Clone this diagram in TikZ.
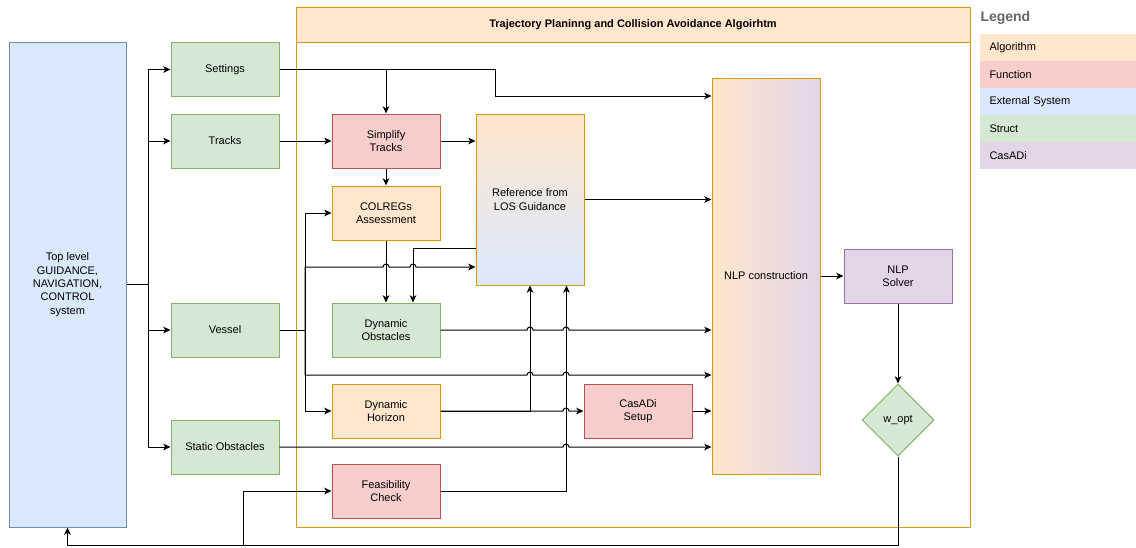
\documentclass[tikz,border=0pt]{standalone}
\usepackage{fontspec}
\setmainfont{Liberation Sans}
\usepackage{tikz}
\usetikzlibrary{shapes}
\usetikzlibrary{shapes.geometric}
\usetikzlibrary{arrows.meta}

\definecolor{algfill}{HTML}{FFE6CC}
\definecolor{algline}{HTML}{D79B00}
\definecolor{funfill}{HTML}{F8CECC}
\definecolor{funline}{HTML}{B85450}
\definecolor{extfill}{HTML}{DAE8FC}
\definecolor{extline}{HTML}{6C8EBF}
\definecolor{strfill}{HTML}{D5E8D4}
\definecolor{strline}{HTML}{82B366}
\definecolor{casfill}{HTML}{E1D5E7}
\definecolor{casline}{HTML}{9673A6}
\definecolor{legtext}{HTML}{666666}

\tikzset{
  box/.style={rectangle, align=center, minimum width=81pt, minimum height=40.5pt,
    inner sep=1pt, font=\fontsize{8.25}{10}\selectfont},
  alg/.style={box, draw=algline, fill=algfill},
  fun/.style={box, draw=funline, fill=funfill},
  struct/.style={box, draw=strline, fill=strfill},
  cas/.style={box, draw=casline, fill=casfill},
  ext/.style={box, draw=extline, fill=extfill},
  legrow/.style={rectangle, anchor=west, minimum height=20.25pt, text width=102.75pt,
    inner xsep=7.5pt, inner ysep=0pt, align=left, font=\fontsize{8.25}{10}\selectfont},
  arr/.style={-{Stealth[length=5.5pt, width=5pt, inset=1.6pt]}},
}

\begin{document}
\begin{tikzpicture}[x=0.75pt, y=0.75pt, line width=0.75pt]
\useasboundingbox (0,0) rectangle (1136,-547);

\node[draw=algline, 
   minimum width=505.5pt, 
   minimum height=390pt] (alg) at (633,-267) {};
\node[draw=algline, fill=algfill, 
   minimum width=505.5pt, 
   minimum height=26.25pt, 
   font=\bfseries\fontsize{8.25}{10}\selectfont] (head) at (633,-24.5) 
  {Trajectory Planinng and Collision Avoidance Algoirhtm};

\node[ext, 
   minimum width=87.75pt, 
   minimum height=363.75pt] (top) at (67.5,-284.5) 
  {Top level\\GUIDANCE,\\NAVIGATION,\\CONTROL\\system};

\node[struct] (settings) at (225,-69.5) {Settings};
\node[struct] (tracks) at (225,-141) {Tracks};
\node[struct] (vessel) at (225,-330) {Vessel};
\node[struct] (static) at (225,-447) {Static Obstacles};

\node[fun] (simp) at (386,-141) {Simplify\\Tracks};
\node[alg] (colregs) at (386,-213) {COLREGs\\Assessment};
\node[struct] (dobs) at (386,-330) {Dynamic\\Obstacles};
\node[alg] (dhor) at (386,-411) {Dynamic\\Horizon};
\node[fun] (feas) at (386,-491) {Feasibility\\Check};

\node[box, draw=algline, 
   top color=algfill, bottom color=extfill, 
   minimum height=128.25pt] (los) at (530,-199.5) 
  {Reference from\\LOS Guidance};
\node[fun] (setup) at (638,-411) {CasADi\\Setup};

\node[box, draw=algline, 
   left color=algfill, right color=casfill, 
   minimum height=297pt] (nlp) at (766,-276) 
  {NLP construction};
\node[cas] (solver) at (898,-276) {NLP\\Solver};
\node[draw=strline, fill=strfill, 
   diamond, aspect=1, inner sep=0pt, 
   minimum width=54pt, minimum height=54pt, 
   font=\fontsize{8.25}{10}\selectfont] (wopt) at (898,-420) {w\_opt};

\node[anchor=west, inner sep=0pt, text=legtext, 
   font=\bfseries\fontsize{10.5}{12}\selectfont] (legend) at (980,-18) {Legend};
\node[legrow, fill=algfill] (legalg) at (979,-47.5) {Algorithm};
\node[legrow, fill=funfill] (legfun) at (979,-74.5) {Function};
\node[legrow, fill=extfill] (legext) at (979,-101.5) {External System};
\node[legrow, fill=strfill] (legstr) at (979,-128.5) {Struct};
\node[legrow, fill=casfill] (legcas) at (979,-155.5) {CasADi};

\coordinate (split) at (148,-284.5);
\coordinate (setbend) at (495,-96);
\coordinate (vj) at (305,-330);
\coordinate (vb) at (305,-375);
\coordinate (fbk) at (243,-545);

\draw[arr] (top.east) -- (split) |- (settings);
\draw[arr] (split) |- (tracks);
\draw[arr] (split) |- (vessel);
\draw[arr] (split) |- (static);

\draw[arr] (settings.east) -| (simp);
\draw[arr] (settings.east) -| (setbend) -- (nlp.west |- setbend);
\draw[arr] (tracks) -- (simp);
\draw[arr] (simp.east) -- (simp.east -| los.west);
\draw[arr] (simp) -- (colregs);
\draw[arr] (los.east) -- (nlp.west |- los);
\draw[arr] (colregs) -- (dobs);
\draw[arr] ([yshift=-101.25pt]los.north west) -| ([xshift=20.25pt]dobs.north);

\draw (vessel) -- (vj);
\draw[arr] (vj) |- (colregs);
\draw[arr] (vj) |- (dhor);
\draw[arr] (vj) |- (383,-267) arc (180:0:2.25pt) -- (410,-267) arc (180:0:2.25pt) 
   -- (los.west |- 0,-267);
\draw[arr] (vj) -- (vb) -- (527,-375) arc (180:0:2.25pt) -- (563,-375) arc (180:0:2.25pt) 
   -- (nlp.west |- vb);
\draw[arr] (dobs.east) -- (527,-330) arc (180:0:2.25pt) -- (563,-330) arc (180:0:2.25pt) 
   -- (nlp.west |- dobs);

\draw[arr] (dhor.east) -| (los.south);
\draw[arr] (dhor.east) -- (563,-411) arc (180:0:2.25pt) -- (setup.west);
\draw[arr] (feas.east) -| ([xshift=-13.5pt]los.south east);
\draw[arr] (static.east) -- (563,-447) arc (180:0:2.25pt) -- (nlp.west |- static);
\draw[arr] (setup) -- (nlp.west |- setup);

\draw[arr] (nlp.east |- solver) -- (solver);
\draw[arr] (solver) -- (wopt);
\draw[arr] (wopt.south) |- ([yshift=-13.5pt]top.south) -- (top.south);
\draw[arr] (wopt.south) |- (fbk) |- (feas);
\end{tikzpicture}
\end{document}
